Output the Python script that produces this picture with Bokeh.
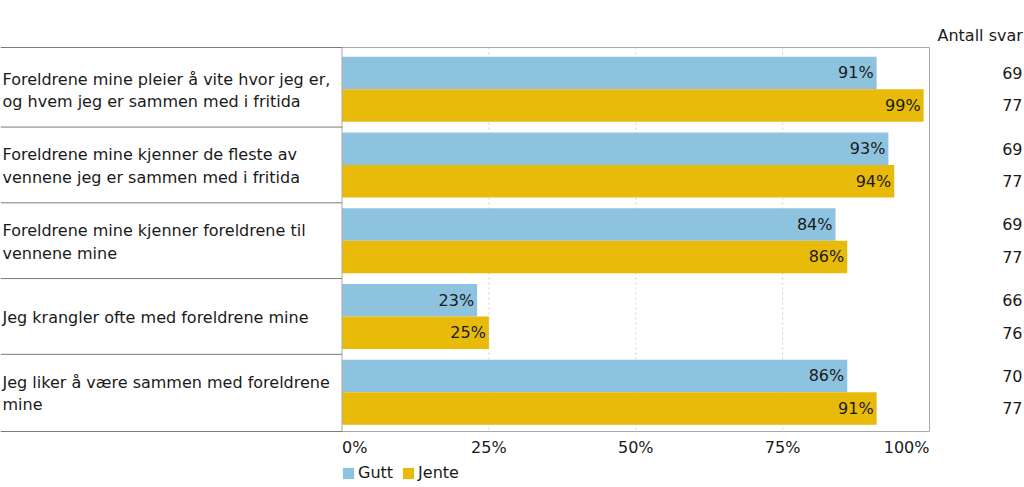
from bokeh.plotting import figure
from bokeh.models import Range1d, Legend, LegendItem, ColumnDataSource
from bokeh.core.properties import value
from bokeh.embed import file_html
from bokeh.resources import INLINE

# ---------------- data ----------------
categories = [
    "Foreldrene mine pleier å vite hvor jeg er,\nog hvem jeg er sammen med i fritida",
    "Foreldrene mine kjenner de fleste av\nvennene jeg er sammen med i fritida",
    "Foreldrene mine kjenner foreldrene til\nvennene mine",
    "Jeg krangler ofte med foreldrene mine",
    "Jeg liker å være sammen med foreldrene\nmine",
]
gutt = [91, 93, 84, 23, 86]
jente = [99, 94, 86, 25, 91]
n_gutt = [69, 69, 69, 66, 70]
n_jente = [77, 77, 77, 76, 77]
series_names = ["Gutt", "Jente"]
tick_values = [0, 25, 50, 75, 100]
tick_labels = ["0%", "25%", "50%", "75%", "100%"]
count_header = "Antall svar"

# ---------------- style / layout ----------------
FONT = value("DejaVu Sans")
FS = "16px"
C_GUTT = "#8EC3DF"
C_JENTE = "#E8BA0A"
TXT = "#1a1a1a"
W, H = 1024, 487
X0PX, X100PX = 341.5, 929.0          # pixel position of 0 % and 100 %
SX = 100.0 / (X100PX - X0PX)
BAND_PX, C0PX = 75.75, 88.7          # band pitch and first band centre in pixels
FRAME_TOP_PX, FRAME_BOT_PX = 47, 431


def px_x(px):
    return (px - X0PX) * SX


def px_y(py):
    return 0.5 + (py - C0PX) / BAND_PX


BAR_H = 0.43
OFF = 0.215
FT, FB = px_y(FRAME_TOP_PX), px_y(FRAME_BOT_PX)

p = figure(width=W, height=H, x_range=Range1d(px_x(0), px_x(W)), y_range=Range1d(px_y(H), px_y(0)),
           x_axis_location=None, y_axis_location=None, toolbar_location=None, output_backend="svg",
           min_border=0, min_border_left=0, min_border_right=0, min_border_top=0, min_border_bottom=0,
           outline_line_color=None, background_fill_color="white", border_fill_color="white")
p.grid.visible = False

n = len(categories)
centers = [i + 0.5 for i in range(n)]
src_g = ColumnDataSource(dict(y=[c - OFF for c in centers], v=gutt,
                              lbl=[f"{v}%" for v in gutt], n=[str(v) for v in n_gutt]))
src_j = ColumnDataSource(dict(y=[c + OFF for c in centers], v=jente,
                              lbl=[f"{v}%" for v in jente], n=[str(v) for v in n_jente]))

# grid lines (inner ticks)
inner = tick_values[1:-1]
p.segment(x0=inner, x1=inner, y0=FT, y1=FB, line_color="#d0d0d0", line_dash="2 3", line_width=1)

# bars
rg = p.hbar(y="y", left=0, right="v", height=BAR_H, source=src_g, fill_color=C_GUTT, line_color=None)
rj = p.hbar(y="y", left=0, right="v", height=BAR_H, source=src_j, fill_color=C_JENTE, line_color=None)

# plot-area border
p.quad(left=tick_values[0], right=tick_values[-1], top=FT, bottom=FB, fill_color=None, line_color="#a8a8a8")

# label table on the left
lines_y = [FT] + [float(i) for i in range(1, n)] + [FB]
p.segment(x0=px_x(0), x1=tick_values[0], y0=lines_y, y1=lines_y, line_color="#7a7a7a", line_width=1)
p.text(x=px_x(2), y=[c + 0.015 for c in centers], text=categories, text_align="left", text_baseline="middle",
       text_font=FONT, text_font_size=FS, text_color=TXT, text_line_height=1.18)

# value labels in bars
for s in (src_g, src_j):
    p.text(x="v", y="y", text="lbl", source=s, x_offset=-3, text_align="right", text_baseline="middle",
           text_font=FONT, text_font_size=FS, text_color=TXT)

# counts column
for s in (src_g, src_j):
    p.text(x=px_x(1022), y="y", text="n", source=s, text_align="right", text_baseline="middle",
           text_font=FONT, text_font_size=FS, text_color=TXT)
p.text(x=[px_x(937)], y=[px_y(35)], text=[count_header], text_align="left", text_baseline="middle",
       text_font=FONT, text_font_size=FS, text_color=TXT)

# x tick labels
p.text(x=tick_values, y=[px_y(447)] * len(tick_values), text=tick_labels,
       text_align=["left", "center", "center", "center", "right"], text_baseline="middle",
       text_font=FONT, text_font_size=FS, text_color=TXT)

legend = Legend(items=[LegendItem(label=series_names[0], renderers=[rg]),
                       LegendItem(label=series_names[1], renderers=[rj])],
                location=(341, 5), orientation="horizontal", glyph_width=14, glyph_height=14,
                label_standoff=3, spacing=8, padding=0, margin=0, border_line_color=None,
                background_fill_alpha=0, label_text_font="DejaVu Sans", label_text_font_size=FS,
                label_text_color=TXT, label_height=14)
p.add_layout(legend)

open("out.html", "w").write(file_html(p, INLINE))
